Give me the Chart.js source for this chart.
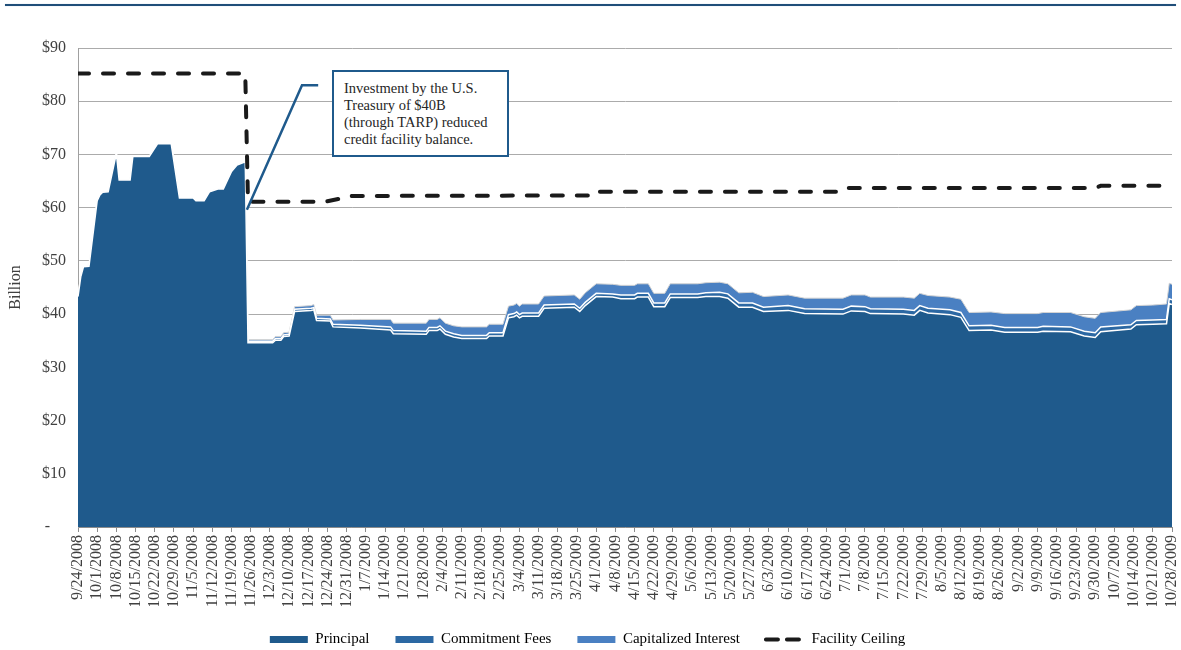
<!DOCTYPE html>
<html>
<head>
<meta charset="utf-8">
<script src="https://cdn.jsdelivr.net/npm/chart.js@4.4.0/dist/chart.umd.min.js"></script>
<style>
  html, body { margin: 0; padding: 0; background: #fff; }
  #wrap { position: relative; width: 1181px; height: 650px; }
  canvas { display: block; }
  #topRule { position: absolute; left: 5px; top: 4px; width: 1171px; height: 2px; background: #1f4e79; box-shadow: 0 0 1px #9fb8d0; }
  #note { position: absolute; left: 332px; top: 70px; width: 177px; height: 87px; box-sizing: border-box;
          border: 2.5px solid #1f5a8c; padding: 8px 4px 0 10px; background: #fff;
          font: 14.5px/17px "Liberation Serif", "Times New Roman", serif; color: #262626; }
</style>
</head>
<body>
<div id="wrap">
  <canvas id="chart" width="1181" height="650"></canvas>
  <div id="topRule"></div>
  <div id="note">Investment by the U.S.<br>Treasury of $40B<br>(through TARP) reduced<br>credit facility balance.</div>
</div>
<script>
// weekly axis labels
const weekLabels = ['9/24/2008','10/1/2008','10/8/2008','10/15/2008','10/22/2008','10/29/2008','11/5/2008','11/12/2008',
  '11/19/2008','11/26/2008','12/3/2008','12/10/2008','12/17/2008','12/24/2008','12/31/2008','1/7/2009','1/14/2009',
  '1/21/2009','1/28/2009','2/4/2009','2/11/2009','2/18/2009','2/25/2009','3/4/2009','3/11/2009','3/18/2009','3/25/2009',
  '4/1/2009','4/8/2009','4/15/2009','4/22/2009','4/29/2009','5/6/2009','5/13/2009','5/20/2009','5/27/2009','6/3/2009',
  '6/10/2009','6/17/2009','6/24/2009','7/1/2009','7/8/2009','7/15/2009','7/22/2009','7/29/2009','8/5/2009','8/12/2009',
  '8/19/2009','8/26/2009','9/2/2009','9/9/2009','9/16/2009','9/23/2009','9/30/2009','10/7/2009','10/14/2009',
  '10/21/2009','10/28/2009'];

// days since 9/24/2008 where the balance changes
const days = [0,1,2,4,7,8,9,11,14,15,19,20,26,29,34,37,42,43,46,48,51,53,56,58,61,
  62,71,72,74,75,77,79,85,86,87,92,93,103,114,115,127,128,131,132,134,137,140,149,150,155,157,159,160,161,162,
  168,170,181,183,185,189,195,198,203,204,208,210,214,216,226,229,234,237,241,246,250,259,265,279,282,287,289,
  301,305,307,310,318,322,325,333,338,350,352,362,367,371,373,384,386,392,397,398,399];

// $ billion
const principal = [43.3,47.0,48.9,49.0,61.3,62.4,62.9,63.0,70.2,65.2,65.2,69.6,69.6,72.0,72.0,61.8,61.8,61.3,61.3,63.0,
  63.5,63.5,66.8,68.0,68.6,
  34.6,34.6,35.1,35.1,35.8,35.9,40.5,40.7,40.8,38.8,38.7,37.6,37.4,37.0,36.3,36.2,36.9,36.9,37.2,36.2,
  35.7,35.4,35.4,35.9,35.9,39.3,39.5,39.8,39.3,39.6,39.6,41.1,41.3,40.5,41.6,43.3,43.2,42.9,42.9,43.2,
  43.2,41.4,41.4,43.1,43.1,43.3,43.3,43.0,41.3,41.3,40.5,40.7,40.1,40.0,40.6,40.5,40.1,40.0,39.8,40.7,
  40.2,39.9,39.4,36.9,37.0,36.6,36.6,36.8,36.7,35.9,35.6,36.7,37.2,38.0,38.1,38.2,42.0,41.8];

const fees = [0,0,0,0,0,0,0,0,0,0,0,0,0,0,0,0,0,0,0,0,0,0,0,0,0,
  0.3,0.3,0.3,0.3,0.3,0.3,0.4,0.4,0.4,0.4,0.4,0.5,0.5,0.6,0.6,0.6,0.6,0.6,0.6,0.6,
  0.6,0.6,0.6,0.6,0.6,0.6,0.6,0.6,0.6,0.6,0.6,0.6,0.6,0.6,0.6,0.6,0.6,0.7,0.7,0.7,
  0.7,0.7,0.7,0.7,0.7,0.7,0.8,0.8,0.8,0.8,0.8,0.9,0.9,0.9,0.9,0.9,0.9,0.9,0.9,0.9,
  0.9,0.9,0.9,0.9,0.9,0.9,0.9,0.9,0.9,0.9,0.9,0.9,0.8,0.8,0.8,0.8,0.9,0.9];

const interest = [0,0,0,0,0,0,0,0,0,0,0,0,0,0,0,0,0,0,0,0,0,0,0,0,0,
  0.3,0.3,0.4,0.4,0.4,0.4,0.5,0.5,0.6,0.6,0.7,0.8,1.1,1.4,1.4,1.5,1.5,1.5,1.5,1.5,
  1.5,1.6,1.6,1.6,1.6,1.6,1.6,1.6,1.6,1.7,1.7,1.7,1.7,1.7,1.8,1.8,1.8,1.8,1.8,1.8,
  1.8,1.8,1.8,1.9,1.9,1.9,1.9,1.9,1.9,2.0,2.0,2.0,2.0,2.1,2.1,2.2,2.2,2.3,2.3,2.3,
  2.4,2.4,2.5,2.5,2.5,2.6,2.6,2.6,2.7,2.7,2.7,2.7,2.8,2.8,2.8,2.9,2.9,2.9];

const ceilingDays = [0,61,62,90,100,188,189,279,281,371,373,399];
const ceiling = [85.2,85.2,61.1,61.1,62.2,62.3,63.0,63.0,63.7,63.7,64.1,64.1];

Chart.defaults.font.family = '"Liberation Serif", "Times New Roman", serif';
Chart.defaults.font.size = 16;
Chart.defaults.color = '#404040';

function toPoints(xs, ys) {
  return xs.map((x, i) => ({ x: x, y: ys[i] }));
}

// callout leader from the drop to the note box
const leaderLine = {
  id: 'leaderLine',
  afterDatasetsDraw(chart) {
    const { ctx, scales: { x, y } } = chart;
    ctx.save();
    ctx.strokeStyle = '#1f5a8c';
    ctx.lineWidth = 2.5;
    ctx.beginPath();
    ctx.moveTo(x.getPixelForValue(61.6), y.getPixelForValue(59.6));
    ctx.lineTo(x.getPixelForValue(81.7), y.getPixelForValue(83));
    ctx.lineTo(x.getPixelForValue(87.6), y.getPixelForValue(83));
    ctx.stroke();
    ctx.restore();
  }
};

const ctx = document.getElementById('chart').getContext('2d');
new Chart(ctx, {
  type: 'line',
  data: {
    datasets: [
      { label: 'Principal', data: toPoints(days, principal), backgroundColor: '#1f5a8c',
        borderColor: '#ffffff', borderWidth: 1.5, fill: 'origin', stack: 'balance' },
      { label: 'Commitment Fees', data: toPoints(days, fees), backgroundColor: '#2c68a3',
        borderColor: '#ffffff', borderWidth: 1.5, fill: '-1', stack: 'balance' },
      { label: 'Capitalized Interest', data: toPoints(days, interest), backgroundColor: '#4a80c2',
        borderColor: '#d4d4d4', borderWidth: 1, fill: '-1', stack: 'balance' },
      { label: 'Facility Ceiling', data: toPoints(ceilingDays, ceiling), borderColor: '#1a1a1a',
        borderWidth: 4, borderDash: [11, 14], borderCapStyle: 'round', fill: false, stack: 'ceiling', order: -1 }
    ]
  },
  options: {
    responsive: false,
    animation: false,
    elements: { point: { radius: 0 }, line: { tension: 0 } },
    layout: { padding: { left: 3, right: 9, top: 48, bottom: -7 } },
    scales: {
      x: {
        type: 'linear', min: 0, max: 399,
        ticks: { stepSize: 7, autoSkip: false, minRotation: 90, maxRotation: 90, font: { size: 16 },
                 callback: v => weekLabels[Math.round(v / 7)] },
        grid: { drawOnChartArea: false, drawTicks: true, tickLength: 5, color: '#8c8c8c' },
        border: { color: '#8c8c8c' },
        afterFit: s => { s.height = 79; s.paddingLeft = 0; s.paddingRight = 0; }
      },
      y: {
        stacked: true, min: 0, max: 90,
        ticks: { stepSize: 10, padding: 12, callback: v => v === 0 ? '-    ' : '$' + v },
        grid: { color: '#ababab', drawTicks: false },
        border: { color: '#a0a0a0' },
        title: { display: true, text: 'Billion', font: { size: 16 }, padding: { top: 3, bottom: 0 } },
        afterFit: s => { s.width = 75; }
      }
    },
    plugins: {
      tooltip: { enabled: false },
      legend: {
        position: 'bottom',
        labels: {
          usePointStyle: true, pointStyleWidth: 38, boxHeight: 7, padding: 26,
          font: { size: 15 }, color: '#404040',
          generateLabels(chart) {
            return chart.data.datasets.map((ds, i) => {
              const isLine = i === 3;
              return {
                text: ds.label, datasetIndex: i, hidden: false,
                fillStyle: isLine ? 'transparent' : ds.backgroundColor,
                strokeStyle: isLine ? '#1a1a1a' : ds.backgroundColor,
                lineWidth: isLine ? 4 : 0,
                lineDash: isLine ? [12, 9] : [],
                lineCap: isLine ? 'round' : 'butt',
                pointStyle: isLine ? 'line' : 'rect'
              };
            });
          }
        }
      }
    }
  },
  plugins: [leaderLine]
});
</script>
</body>
</html>
